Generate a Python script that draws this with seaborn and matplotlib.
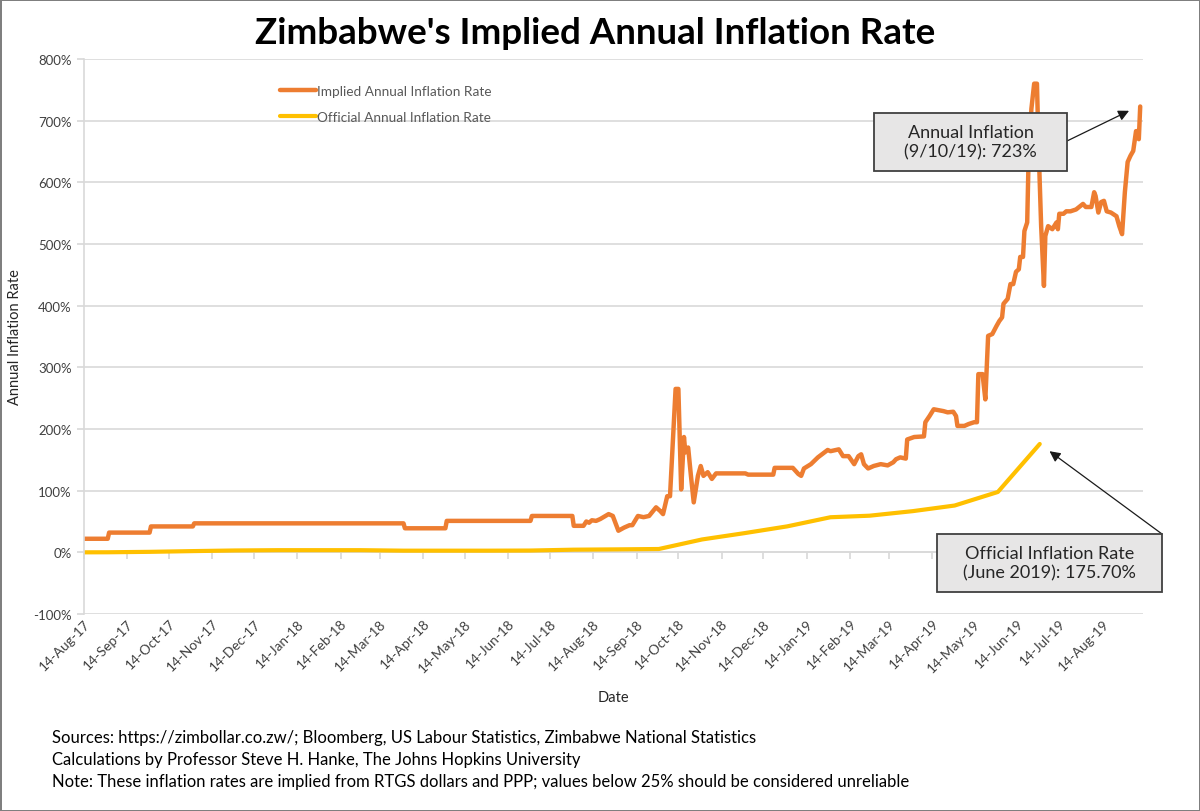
import pandas as pd
import matplotlib.pyplot as plt
import matplotlib.dates as mdates
from matplotlib.patches import Rectangle
from matplotlib.ticker import FuncFormatter
import seaborn as sns

# ─────────────────────────────────────────────
# DATA
# ─────────────────────────────────────────────
implied_dates = [
    "2017-08-14", "2017-08-31", "2017-09-01", "2017-09-30", "2017-10-01", "2017-10-31",
    "2017-11-01", "2018-03-31", "2018-04-01", "2018-04-30", "2018-05-01", "2018-06-30",
    "2018-07-01", "2018-07-30", "2018-07-31", "2018-08-07", "2018-08-09", "2018-08-11",
    "2018-08-13", "2018-08-16", "2018-08-19", "2018-08-25", "2018-08-28", "2018-09-01",
    "2018-09-05", "2018-09-09", "2018-09-11", "2018-09-15", "2018-09-19", "2018-09-23",
    "2018-09-28", "2018-10-01", "2018-10-03", "2018-10-06", "2018-10-08", "2018-10-12",
    "2018-10-14", "2018-10-16", "2018-10-18", "2018-10-19", "2018-10-21", "2018-10-23",
    "2018-10-25", "2018-10-28", "2018-10-30", "2018-11-01", "2018-11-04", "2018-11-07",
    "2018-11-10", "2018-12-01", "2018-12-03", "2018-12-21", "2018-12-22", "2019-01-04",
    "2019-01-08", "2019-01-10", "2019-01-12", "2019-01-17", "2019-01-22", "2019-01-29",
    "2019-01-31", "2019-02-06", "2019-02-09", "2019-02-13", "2019-02-17", "2019-02-20",
    "2019-02-22", "2019-02-24", "2019-02-27", "2019-03-03", "2019-03-08", "2019-03-13",
    "2019-03-17", "2019-03-19", "2019-03-22", "2019-03-26", "2019-03-27", "2019-04-01",
    "2019-04-08", "2019-04-09", "2019-04-12", "2019-04-15", "2019-04-22", "2019-04-25",
    "2019-04-29", "2019-05-01", "2019-05-02", "2019-05-07", "2019-05-10", "2019-05-14",
    "2019-05-16", "2019-05-17", "2019-05-20", "2019-05-22", "2019-05-24", "2019-05-27",
    "2019-05-30", "2019-06-01", "2019-06-03", "2019-06-04", "2019-06-07", "2019-06-09",
    "2019-06-11", "2019-06-13", "2019-06-15", "2019-06-16", "2019-06-18", "2019-06-19",
    "2019-06-21", "2019-06-22", "2019-06-24", "2019-06-26", "2019-06-28", "2019-06-29",
    "2019-07-01", "2019-07-03", "2019-07-04", "2019-07-06", "2019-07-09", "2019-07-12",
    "2019-07-13", "2019-07-14", "2019-07-17", "2019-07-19", "2019-07-22", "2019-07-26",
    "2019-07-31", "2019-08-02", "2019-08-06", "2019-08-08", "2019-08-09", "2019-08-11",
    "2019-08-13", "2019-08-15", "2019-08-17", "2019-08-20", "2019-08-24", "2019-08-26",
    "2019-08-28", "2019-08-30", "2019-09-01", "2019-09-03", "2019-09-05", "2019-09-07",
    "2019-09-08", "2019-09-09", "2019-09-10",
]
implied_rates = [
    22, 22, 32, 32, 42, 42,
    47, 47, 39, 39, 51, 51,
    59, 59, 43, 43, 50, 48,
    52, 51, 54, 62, 59, 35,
    40, 44, 44, 59, 57, 59,
    73, 67, 62, 91, 91, 265,
    265, 102, 187, 162, 170, 124,
    81, 124, 140, 124, 130, 119,
    128, 128, 126, 126, 137, 137,
    127, 124, 136, 143, 154, 166,
    164, 167, 156, 156, 143, 156,
    159, 143, 136, 140, 143, 141,
    146, 151, 154, 152, 183, 187,
    188, 211, 221, 232, 229, 227,
    228, 221, 205, 205, 208, 211,
    211, 289, 289, 248, 351, 354,
    367, 375, 381, 403, 411, 435,
    435, 455, 459, 479, 479, 521,
    535, 638, 719, 760, 760, 670,
    529, 432, 513, 529, 524, 535,
    524, 549, 549, 553, 553, 556,
    565, 560, 560, 584, 578, 551,
    568, 570, 553, 551, 545, 529,
    516, 584, 633, 643, 651, 683,
    683, 670, 723,
]

official_dates = [
    "2017-08-14", "2017-08-31", "2017-09-30", "2017-10-31", "2017-11-30", "2017-12-31",
    "2018-01-31", "2018-02-28", "2018-03-31", "2018-04-30", "2018-05-31", "2018-06-30",
    "2018-07-31", "2018-08-31", "2018-09-30", "2018-10-31", "2018-11-30", "2018-12-31",
    "2019-01-31", "2019-02-28", "2019-03-31", "2019-04-30", "2019-05-31", "2019-06-30",
]
official_rates = [
    0.0, 0.1, 0.8, 2.0, 3.0, 3.5,
    3.5, 3.5, 2.7, 2.7, 2.7, 2.9,
    4.3, 4.8, 5.4, 20.9, 31.0, 42.1,
    56.9, 59.4, 66.8, 75.9, 97.9, 175.7,
]

implied = pd.DataFrame({"Date": pd.to_datetime(implied_dates), "Rate": implied_rates})
official = pd.DataFrame({"Date": pd.to_datetime(official_dates), "Rate": official_rates})

ORANGE = "#ED7D31"
YELLOW = "#FFC000"
GRID = "#D9D9D9"
TXT = "#404040"
W, H = 1200, 812


def fx(px):
    return px / W


def fy(py):
    return 1 - py / H


# ─────────────────────────────────────────────
# FIGURE
# ─────────────────────────────────────────────
sns.set_theme(style="white")
plt.rcParams["font.family"] = ["Lato", "DejaVu Sans"]

fig = plt.figure(figsize=(12, 8.12), dpi=100)
fig.patch.set_edgecolor("#7F7F7F")
fig.patch.set_linewidth(2)
ax = fig.add_axes([fx(84), fy(615), fx(1143 - 84), (615 - 60) / H])

sns.lineplot(data=implied, x="Date", y="Rate", ax=ax, color=ORANGE, lw=3.2,
             label="Implied Annual Inflation Rate")
sns.lineplot(data=official, x="Date", y="Rate", ax=ax, color=YELLOW, lw=3.0,
             label="Official Annual Inflation Rate")

# axes ranges / grid
ax.set_ylim(-100, 800)
ax.set_yticks(range(-100, 801, 100))
ax.yaxis.set_major_formatter(FuncFormatter(lambda v, p: f"{v:.0f}%"))
ax.set_xlim(pd.Timestamp("2017-08-14"), pd.Timestamp("2019-09-12"))
ax.yaxis.grid(True, color=GRID, lw=1.2)
ax.set_axisbelow(True)
for s in ["top", "right", "bottom"]:
    ax.spines[s].set_visible(False)
ax.spines["left"].set_color(GRID)
ax.spines["left"].set_linewidth(1.2)
ax.tick_params(axis="y", length=5, color=GRID, labelsize=9.5, labelcolor=TXT, pad=4, left=True)

month_ticks = pd.date_range("2017-08-01", "2019-08-14", freq="MS") + pd.Timedelta(days=13)
ax.set_xticks(month_ticks)
ax.xaxis.set_major_formatter(mdates.DateFormatter("%d-%b-%y"))
ax.tick_params(axis="x", length=0, labelsize=9.8, labelcolor=TXT, pad=2)
plt.setp(ax.get_xticklabels(), rotation=45, ha="right", rotation_mode="anchor")

# horizontal axis line sits on 0% with its tick marks
zero_axis = ax.secondary_xaxis(100 / 900)
zero_axis.set_xticks(month_ticks)
zero_axis.tick_params(axis="x", length=5, color=GRID, labelbottom=False)
zero_axis.spines["bottom"].set_color(GRID)
zero_axis.spines["bottom"].set_linewidth(1.2)

ax.set_xlabel("Date", fontsize=10.5, color="#262626", labelpad=12)
ax.set_ylabel("Annual Inflation Rate", fontsize=10.5, color="#262626", labelpad=8)

leg = ax.legend(loc="upper left", bbox_to_anchor=(fx(268), fy(74)),
                bbox_transform=fig.transFigure, frameon=False, fontsize=9.8,
                handlelength=2.6, handletextpad=0.1, labelspacing=1.0)
for t in leg.get_texts():
    t.set_color("#595959")

# call-out boxes with arrows
callouts = [
    # text, box (left, top, right, bottom) px, arrow start px, arrow target (date, rate)
    ("Annual Inflation\n(9/10/19): 723%", (874, 114, 1067, 172), (1067, 142),
     ("2019-09-02", 716)),
    ("Official Inflation Rate\n(June 2019): 175.70%", (937, 535, 1162, 593), (1162, 535),
     ("2019-07-07", 164)),
]
for text, (l, t, r, b), (sx, sy), (tdate, trate) in callouts:
    fig.patches.append(Rectangle((fx(l), fy(b)), fx(r - l), (b - t) / H,
                                 transform=fig.transFigure, fc="#E7E6E6",
                                 ec="#404040", lw=1.3, zorder=5))
    fig.text(fx((l + r) / 2), fy((t + b) / 2), text, ha="center", va="center",
             fontsize=13, color="#262626", linespacing=1.25, zorder=6)
    ax.annotate("", xy=(pd.Timestamp(tdate), trate), xycoords="data",
                xytext=(fx(sx), fy(sy)), textcoords="figure fraction",
                arrowprops=dict(arrowstyle="-|>", color="#1A1A1A", lw=0.9,
                                mutation_scale=16, shrinkA=0, shrinkB=0))

fig.text(fx(595), fy(33), "Zimbabwe's Implied Annual Inflation Rate",
         ha="center", va="center", fontsize=26.5, fontweight="bold", color="black")

notes = [
    "Sources: https://zimbollar.co.zw/; Bloomberg, US Labour Statistics, Zimbabwe National Statistics",
    "Calculations by Professor Steve H. Hanke, The Johns Hopkins University",
    "Note: These inflation rates are implied from RTGS dollars and PPP; values below 25% should be considered unreliable",
]
for i, line in enumerate(notes):
    fig.text(fx(52), fy(738 + 22 * i), line, ha="left", va="center",
             fontsize=12, color="black")

fig.savefig("out.png", dpi=100)
